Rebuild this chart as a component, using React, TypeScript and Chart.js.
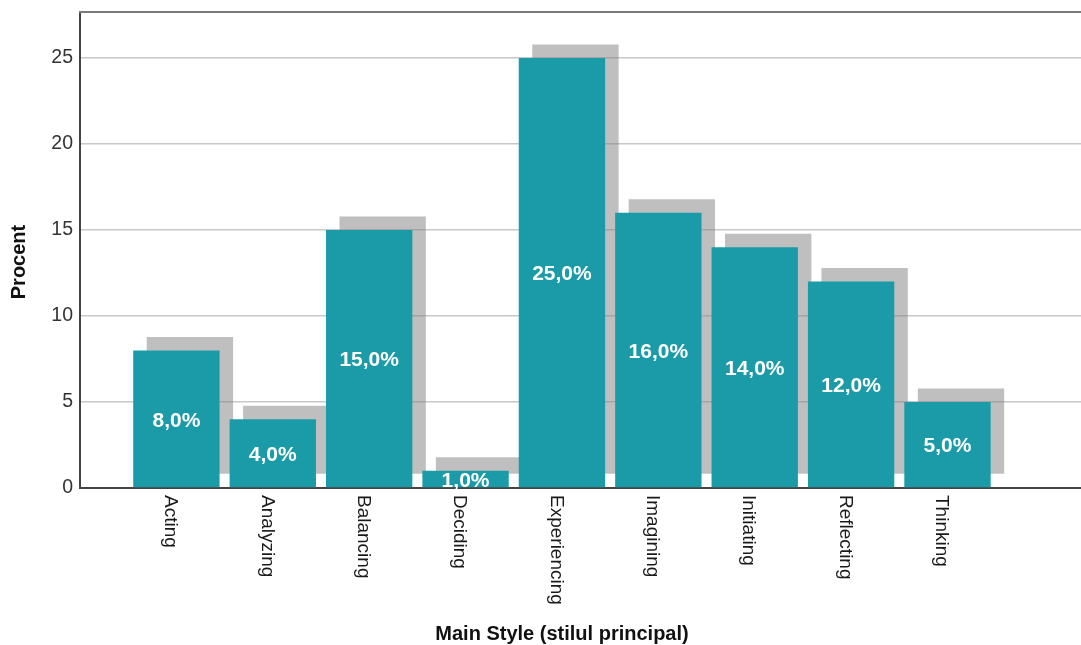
import React, { useEffect, useRef } from "react";
import { Chart, registerables } from "chart.js";

Chart.register(...registerables);

// Main learning style distribution (percent of respondents)
const categories = [
  "Acting",
  "Analyzing",
  "Balancing",
  "Deciding",
  "Experiencing",
  "Imagining",
  "Initiating",
  "Reflecting",
  "Thinking",
];
const percentValues = [8, 4, 15, 1, 25, 16, 14, 12, 5];
const yAxisMax = 27.67;
const yTickStep = 5;
const xAxisTitle = "Main Style (stilul principal)";
const yAxisTitle = "Procent";

const BAR_COLOR = "#1b9ba7";
const SHADOW_COLOR = "rgba(128,128,128,0.5)";
const SHADOW_OFFSET = 13.5;
const FONT = "'Liberation Sans', Arial, sans-serif";

const formatPercent = (v: number) => v.toFixed(1).replace(".", ",") + "%";

// Offsets the shadow dataset up and to the right for a 3D-ish look
const shadowPlugin = {
  id: "barShadow",
  beforeDatasetDraw(chart: any, args: any) {
    if (args.index === 1) {
      chart.ctx.save();
      chart.ctx.translate(SHADOW_OFFSET, -SHADOW_OFFSET);
    }
  },
  afterDatasetDraw(chart: any, args: any) {
    if (args.index === 1) chart.ctx.restore();
  },
};

// Value labels inside bars, rotated category labels, axis titles, top frame line
const decorPlugin = {
  id: "decor",
  afterDatasetsDraw(chart: any) {
    const ctx = chart.ctx;
    const meta = chart.getDatasetMeta(0);
    ctx.save();
    ctx.fillStyle = "#ffffff";
    ctx.font = `bold 21px ${FONT}`;
    ctx.textAlign = "center";
    ctx.textBaseline = "middle";
    meta.data.forEach((el: any, i: number) => {
      const cy = (el.y + el.base) / 2 + 2;
      ctx.fillText(formatPercent(percentValues[i]), el.x, cy);
    });
    ctx.restore();
  },
  afterDraw(chart: any) {
    const ctx = chart.ctx;
    const area = chart.chartArea;
    const xScale = chart.scales.x;

    // top frame line
    ctx.save();
    ctx.strokeStyle = "#7a7a7a";
    ctx.lineWidth = 2;
    ctx.beginPath();
    ctx.moveTo(area.left - 1, area.top);
    ctx.lineTo(area.right, area.top);
    ctx.stroke();
    ctx.restore();

    // category labels, reading top to bottom
    ctx.save();
    ctx.fillStyle = "#1a1a1a";
    ctx.font = `19px ${FONT}`;
    ctx.textAlign = "left";
    ctx.textBaseline = "middle";
    categories.forEach((label, i) => {
      const x = xScale.getPixelForValue(i) - 6;
      ctx.save();
      ctx.translate(x, area.bottom + 7);
      ctx.rotate(Math.PI / 2);
      ctx.fillText(label, 0, 0);
      ctx.restore();
    });
    ctx.restore();

    // axis titles
    ctx.save();
    ctx.fillStyle = "#111111";
    ctx.font = `bold 20px ${FONT}`;
    ctx.textAlign = "center";
    ctx.textBaseline = "middle";
    ctx.fillText(xAxisTitle, 562, 634);
    ctx.translate(19, 262);
    ctx.rotate(-Math.PI / 2);
    ctx.fillText(yAxisTitle, 0, 0);
    ctx.restore();
  },
};

export default function App() {
  const canvasRef = useRef<HTMLCanvasElement | null>(null);

  useEffect(() => {
    if (!canvasRef.current) return;
    const points = percentValues.map((v, i) => ({ x: i, y: v }));
    const chart = new Chart(canvasRef.current, {
      type: "bar",
      data: {
        datasets: [
          {
            label: "Procent",
            data: points,
            backgroundColor: BAR_COLOR,
            borderWidth: 0,
            grouped: false,
            order: 1,
            barPercentage: 0.896,
            categoryPercentage: 1,
          },
          {
            label: "shadow",
            data: points,
            backgroundColor: SHADOW_COLOR,
            borderWidth: 0,
            grouped: false,
            order: 2,
            barPercentage: 0.896,
            categoryPercentage: 1,
          },
        ],
      },
      options: {
        responsive: false,
        animation: false,
        layout: { padding: { top: 12, left: 0, right: 0, bottom: 0 } },
        plugins: {
          legend: { display: false },
          tooltip: { enabled: false },
        },
        scales: {
          x: {
            type: "linear",
            min: -1,
            max: 9.385,
            offset: false,
            ticks: { display: false },
            grid: { display: false, offset: false },
            border: { display: true, color: "#444444", width: 2 },
            afterFit(scale: any) {
              scale.height = 157;
              scale.paddingLeft = 0;
              scale.paddingRight = 0;
            },
          },
          y: {
            min: 0,
            max: yAxisMax,
            ticks: {
              stepSize: yTickStep,
              includeBounds: false,
              padding: 7,
              color: "#333333",
              font: { family: FONT, size: 19.5 },
            },
            grid: { color: "#c8c8c8", lineWidth: 1.5, drawTicks: false },
            border: { display: true, color: "#444444", width: 2 },
            afterFit(scale: any) {
              scale.width = 80;
              scale.paddingTop = 0;
              scale.paddingBottom = 0;
            },
          },
        },
      },
      plugins: [shadowPlugin, decorPlugin],
    });
    return () => chart.destroy();
  }, []);

  return (
    <div style={{ position: "absolute", left: 0, top: 0, width: 1081, height: 645, background: "#fff" }}>
      <canvas ref={canvasRef} width={1081} height={645} />
    </div>
  );
}
